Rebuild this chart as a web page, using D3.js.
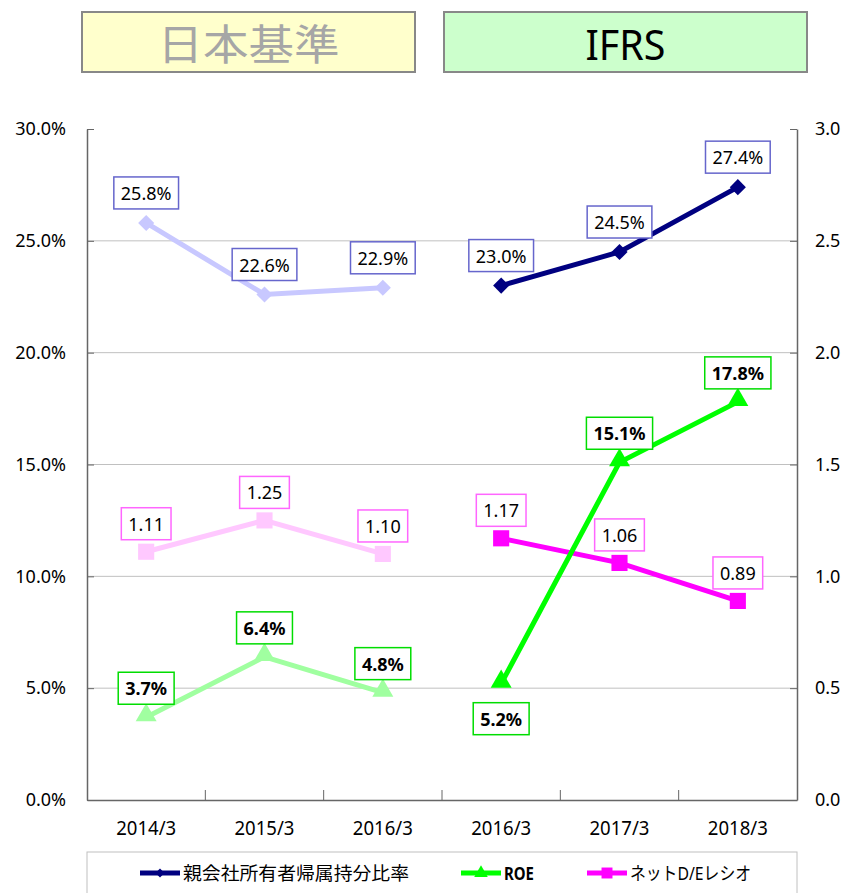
<!DOCTYPE html>
<html>
<head>
<meta charset="utf-8">
<script src="https://cdn.jsdelivr.net/npm/d3@7"></script>
<style>
  body { margin: 0; background: #fff; }
  text { font-family: "Noto Sans", "Noto Sans CJK JP", sans-serif; }
</style>
</head>
<body>
<div id="container"></div>
<script>
let w = 850;
let h = 893;
let margin = { left: 87, right: 53, top: 129, bottom: 93 };

// data
let categories = ["2014/3", "2015/3", "2016/3", "2016/3", "2017/3", "2018/3"];
let equityJ = [25.8, 22.6, 22.9];
let equityI = [23.0, 24.5, 27.4];
let roeJ = [3.7, 6.4, 4.8];
let roeI = [5.2, 15.1, 17.8];
let deJ = [1.11, 1.25, 1.10];
let deI = [1.17, 1.06, 0.89];
let roeLabelSide = ["up", "up", "up", "down", "up", "up"];
let leftTicks = [0, 5, 10, 15, 20, 25, 30];
let rightTicks = [0, 0.5, 1.0, 1.5, 2.0, 2.5, 3.0];
let legendNames = ["親会社所有者帰属持分比率", "ROE", "ネットD/Eレシオ"];

let viz = d3.select("#container")
  .append("svg")
  .attr("width", w)
  .attr("height", h);

let x = d3.scaleBand()
  .domain(d3.range(categories.length))
  .range([margin.left, w - margin.right])
  .padding(0);
let yL = d3.scaleLinear().domain([0, 30]).range([h - margin.bottom, margin.top]);
let yR = d3.scaleLinear().domain([0, 3]).range([h - margin.bottom, margin.top]);
let cx = i => x(i) + x.bandwidth() / 2;

// header boxes
let headers = [
  { text: "日本基準", x0: 82, x1: 415, fill: "#ffffcc", color: "#a6a6a6", len: 182 },
  { text: "IFRS", x0: 444, x1: 807, fill: "#ccffcc", color: "#000", len: 80 }
];
headers.forEach(d => {
  viz.append("rect")
    .attr("x", d.x0).attr("y", 12)
    .attr("width", d.x1 - d.x0).attr("height", 60)
    .attr("fill", d.fill)
    .attr("stroke", "#888").attr("stroke-width", 2);
  viz.append("text")
    .text(d.text)
    .attr("x", (d.x0 + d.x1) / 2)
    .attr("y", 43)
    .attr("text-anchor", "middle")
    .attr("dominant-baseline", "central")
    .attr("font-size", "42px")
    .attr("textLength", d.len)
    .attr("lengthAdjust", "spacingAndGlyphs")
    .attr("fill", d.color);
});

// gridlines
viz.append("g")
  .selectAll("line")
  .data(leftTicks.slice(1, -1))
  .enter()
  .append("line")
  .attr("x1", margin.left).attr("x2", w - margin.right)
  .attr("y1", d => yL(d)).attr("y2", d => yL(d))
  .attr("stroke", "#c0c0c0").attr("stroke-width", 1);

// axes
let axisL = viz.append("g")
  .attr("transform", `translate(${margin.left},0)`)
  .call(d3.axisLeft(yL).tickValues(leftTicks).tickFormat(d => d.toFixed(1) + "%").tickSizeInner(-7).tickSizeOuter(0).tickPadding(21));
let axisR = viz.append("g")
  .attr("transform", `translate(${w - margin.right},0)`)
  .call(d3.axisRight(yR).tickValues(rightTicks).tickFormat(d => d.toFixed(1)).tickSizeInner(-7).tickSizeOuter(0).tickPadding(18));
[axisL, axisR].forEach(a => {
  a.select(".domain").attr("stroke", "#666").attr("stroke-width", 1.5);
  a.selectAll(".tick line").attr("stroke", "#666");
  a.selectAll("text").attr("font-size", "18px").attr("fill", "#000").attr("font-family", "Noto Sans");
});

let axisB = viz.append("g")
  .attr("transform", `translate(0,${h - margin.bottom})`)
  .call(d3.axisBottom(x).tickFormat(i => categories[i]).tickSize(0).tickPadding(22));
axisB.select(".domain").attr("stroke", "#666").attr("stroke-width", 1.5);
axisB.selectAll("text")
  .attr("font-size", "19px").attr("fill", "#000")
  .attr("font-family", "Noto Sans")
  .attr("textLength", 60).attr("lengthAdjust", "spacingAndGlyphs");
viz.append("g")
  .selectAll("line")
  .data(d3.range(1, categories.length))
  .enter()
  .append("line")
  .attr("x1", d => x(d)).attr("x2", d => x(d))
  .attr("y1", h - margin.bottom).attr("y2", h - margin.bottom - 10)
  .attr("stroke", "#666");

// series
let series = [
  { name: "de", vals: [deJ, deI], scale: yR, colors: ["#ffc8ff", "#ff00ff"], marker: "square", box: ["#ff66ff", "#ff66ff"], bold: false, fmt: d => d.toFixed(2), off: -28 },
  { name: "equity", vals: [equityJ, equityI], scale: yL, colors: ["#c8c8ff", "#000080"], marker: "diamond", box: ["#6666cc", "#6666cc"], bold: false, fmt: d => d.toFixed(1) + "%", off: -30 },
  { name: "roe", vals: [roeJ, roeI], scale: yL, colors: ["#a0ffa0", "#00ff00"], marker: "triangle", box: ["#00dd00", "#00dd00"], bold: true, fmt: d => d.toFixed(1) + "%", off: -29 }
];

let symbols = {
  diamond: d3.symbol().type(d3.symbolSquare).size(130),
  square: d3.symbol().type(d3.symbolSquare).size(260),
  triangle: d3.symbol().type(d3.symbolTriangle).size(190)
};

series.forEach(s => {
  s.vals.forEach((arr, k) => {
    let pts = arr.map((v, j) => ({ i: k * 3 + j, v: v }));
    let line = d3.line().x(d => cx(d.i)).y(d => s.scale(d.v));
    viz.append("path")
      .datum(pts)
      .attr("d", line)
      .attr("fill", "none")
      .attr("stroke", s.colors[k])
      .attr("stroke-width", 5);
    viz.append("g")
      .selectAll("path")
      .data(pts)
      .enter()
      .append("path")
      .attr("d", symbols[s.marker])
      .attr("transform", d => `translate(${cx(d.i)},${s.scale(d.v)})` + (s.marker === "diamond" ? " rotate(45)" : "") + (s.marker === "triangle" ? " translate(0,-2)" : ""))
      .attr("fill", s.colors[k]);
  });
});

// data labels
series.forEach(s => {
  s.vals.forEach((arr, k) => {
    arr.forEach((v, j) => {
      let i = k * 3 + j;
      let off = s.off;
      if (s.name === "roe" && roeLabelSide[i] === "down") off = 35;
      let g = viz.append("g");
      let t = g.append("text")
        .text(s.fmt(v))
        .attr("x", cx(i))
        .attr("y", s.scale(v) + off)
        .attr("text-anchor", "middle")
        .attr("dominant-baseline", "central")
        .attr("font-size", "18px")
        .attr("font-weight", s.bold ? "bold" : "normal")
        .attr("fill", "#000");
      let bb = t.node().getBBox();
      g.insert("rect", "text")
        .attr("x", bb.x - 7).attr("y", s.scale(v) + off - 16)
        .attr("width", bb.width + 14).attr("height", 32)
        .attr("fill", "#fff")
        .attr("stroke", s.box[k]).attr("stroke-width", 1.5);
    });
  });
});

// legend
viz.append("rect")
  .attr("x", margin.left).attr("y", 852)
  .attr("width", w - margin.left - margin.right).attr("height", 60)
  .attr("fill", "#fff").attr("stroke", "#c0c0c0");
let legendItems = [
  { color: "#000080", marker: "diamond", x0: 140, len: 226, weight: "normal" },
  { color: "#00ff00", marker: "triangle", x0: 461, len: 30, weight: "bold" },
  { color: "#ff00ff", marker: "square", x0: 587, len: 121, weight: "normal" }
];
legendItems.forEach((d, i) => {
  let ly = 873;
  viz.append("line")
    .attr("x1", d.x0).attr("x2", d.x0 + 40)
    .attr("y1", ly).attr("y2", ly)
    .attr("stroke", d.color).attr("stroke-width", 5);
  let sz = d.marker === "square" ? 120 : (d.marker === "diamond" ? 40 : 80);
  viz.append("path")
    .attr("d", d3.symbol().type(d.marker === "triangle" ? d3.symbolTriangle : d3.symbolSquare).size(sz))
    .attr("transform", `translate(${d.x0 + 20},${ly})` + (d.marker === "diamond" ? " rotate(45)" : ""))
    .attr("fill", d.color);
  viz.append("text")
    .text(legendNames[i])
    .attr("x", d.x0 + 43)
    .attr("y", ly)
    .attr("dominant-baseline", "central")
    .attr("font-size", "18px")
    .attr("font-weight", d.weight)
    .attr("textLength", d.len)
    .attr("lengthAdjust", "spacingAndGlyphs")
    .attr("fill", "#000");
});
</script>
</body>
</html>
